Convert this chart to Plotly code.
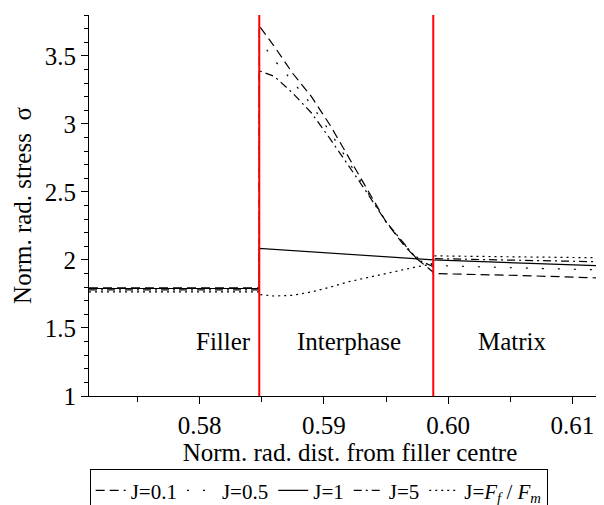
import plotly.graph_objects as go

# region boundaries (normalised radial distance)
x_filler = [0.5711, 0.5848]
x_inter = [0.5848, 0.5860, 0.5875, 0.5890, 0.5905, 0.5920, 0.5935, 0.5950, 0.5965, 0.5975, 0.5988]
x_matrix = [0.5988, 0.6060, 0.6131]
x_lines = [0.5848, 0.5988]

labels = ["J=0.1", "J=0.5", "J=1", "J=5", "J=<i>F</i><sub><i>f</i></sub> / <i>F</i><sub><i>m</i></sub>"]

filler_vals = [1.795, 1.79, 1.79, 1.78, 1.765]

inter_j01 = [3.72, 3.57, 3.37, 3.20, 2.99, 2.75, 2.515, 2.28, 2.10, 2.007, 1.91]
inter_j05 = [3.62, 3.47, 3.31, 3.14, 2.94, 2.72, 2.50, 2.28, 2.11, 2.02, 1.965]
inter_j1 = [2.085, 2.078, 2.069, 2.060, 2.051, 2.042, 2.033, 2.024, 2.015, 2.009, 2.0]
inter_j5 = [3.39, 3.35, 3.225, 3.08, 2.89, 2.69, 2.49, 2.28, 2.12, 2.005, 1.95]
inter_jf = [1.745, 1.735, 1.74, 1.765, 1.80, 1.84, 1.87, 1.90, 1.93, 1.95, 1.97]

matrix_j01 = [1.90, 1.885, 1.865]
matrix_j05 = [1.96, 1.94, 1.925]
matrix_j1 = [2.0, 1.977, 1.955]
matrix_j5 = [2.01, 1.997, 1.985]
matrix_jf = [2.03, 2.022, 2.015]

inter_all = [inter_j01, inter_j05, inter_j1, inter_j5, inter_jf]
matrix_all = [matrix_j01, matrix_j05, matrix_j1, matrix_j5, matrix_jf]
dashes = ["9px,5px", "2px,14px", "solid", "8px,4px,2px,4px", "2px,4px"]

serif = "Liberation Serif, Times New Roman, serif"
big = dict(family=serif, size=25, color="black")

fig = go.Figure()
for lab, fv, iv, mv, dsh in zip(labels, filler_vals, inter_all, matrix_all, dashes):
    xs = x_filler + x_inter + x_matrix
    ys = [fv, fv] + iv + mv
    fig.add_trace(go.Scatter(
        x=xs, y=ys, mode="lines", name=lab,
        line=dict(color="black", width=1.2, dash=dsh)
    ))

for xv in x_lines:
    fig.add_shape(type="line", x0=xv, x1=xv, y0=0, y1=1, xref="x", yref="paper",
                  line=dict(color="red", width=2), layer="above")

for txt, xv in [("Filler", 0.5819), ("Interphase", 0.5920), ("Matrix", 0.6052)]:
    fig.add_annotation(x=xv, y=1.40, text=txt, showarrow=False, font=big)

fig.update_layout(
    width=604, height=505,
    margin=dict(l=81, r=1, t=7, b=115),
    plot_bgcolor="white", paper_bgcolor="white",
    font=big,
    legend=dict(orientation="h", x=0.44, xanchor="center", y=-0.192, yanchor="top",
                bordercolor="black", borderwidth=1,
                font=dict(family=serif, size=21, color="black"),
                itemwidth=30, tracegroupgap=0),
    showlegend=True,
)
fig.update_xaxes(
    range=[0.5711, 0.6131], tickvals=[0.58, 0.59, 0.60, 0.61],
    ticktext=["0.58", "0.59", "0.60", "0.61"], tickfont=big,
    showline=True, linecolor="black", linewidth=1, showgrid=False, zeroline=False,
    ticks="outside", ticklen=7, tickcolor="black",
    minor=dict(dtick=0.005, tick0=0.575, ticks="outside", ticklen=5, tickcolor="black"),
    title=dict(text="Norm. rad. dist. from filler centre", font=big, standoff=0),
)
fig.update_yaxes(
    range=[1, 3.8], tickvals=[1, 1.5, 2, 2.5, 3, 3.5],
    ticktext=["1", "1.5", "2", "2.5", "3", "3.5"], tickfont=big,
    showline=True, linecolor="black", linewidth=1, showgrid=False, zeroline=False,
    ticks="outside", ticklen=7, tickcolor="black",
    minor=dict(dtick=0.1, tick0=1, ticks="outside", ticklen=4, tickcolor="black"),
    title=dict(text="Norm. rad. stress  σ", font=big, standoff=6),
)

fig.write_html("out.html")
